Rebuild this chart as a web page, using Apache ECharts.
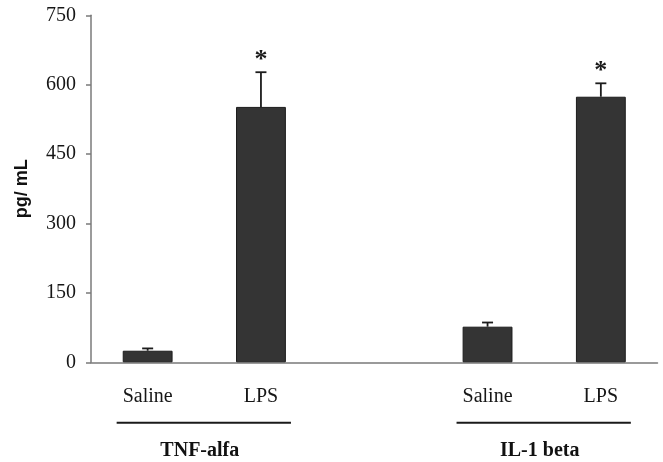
<!DOCTYPE html>
<html>
<head>
<meta charset="utf-8">
<style>
  html, body { margin: 0; padding: 0; background: #fff; }
  #chart { width: 663px; height: 462px; }
</style>
<script src="https://cdn.jsdelivr.net/npm/echarts@6/dist/echarts.min.js"></script>
</head>
<body>
<div id="chart"></div>
<script>
// Cytokine levels (pg/mL), mean with upper error bar; an empty slot separates the two cytokines
const categories = ['Saline', 'LPS', '', 'Saline', 'LPS'];
const means = [25, 552, null, 77, 574];
const errors = [5, 75, null, 9, 29];
const significance = ['', '*', '', '', '*'];
const groups = [
  { name: 'TNF-alfa', from: 0, to: 1 },
  { name: 'IL-1 beta', from: 3, to: 4 }
];
const yTicks = { min: 0, max: 750, interval: 150 };

const serif = '"Liberation Serif", "Times New Roman", serif';
const chart = echarts.init(document.getElementById('chart'));

const errorData = means.map((m, i) => m == null ? null : [i, m, m + errors[i], significance[i]]);

chart.setOption({
  animation: false,
  grid: { left: 91, right: 5.5, top: 15.3, bottom: 99.7, outerBoundsMode: 'none' },
  xAxis: {
    type: 'category',
    data: categories,
    boundaryGap: true,
    axisLine: { lineStyle: { color: '#7a7a7a', width: 1.5 } },
    axisTick: { show: false },
    axisLabel: { margin: 24, fontFamily: serif, fontSize: 20, color: '#161616', interval: 0 }
  },
  yAxis: {
    type: 'value',
    min: yTicks.min,
    max: yTicks.max,
    interval: yTicks.interval,
    name: 'pg/ mL',
    nameLocation: 'middle',
    nameGap: 60,
    nameTextStyle: { fontFamily: '"Liberation Sans", Arial, sans-serif', fontWeight: 'bold', fontSize: 18, color: '#111' },
    splitLine: { show: false },
    axisLine: { show: true, lineStyle: { color: '#7a7a7a', width: 1.5 } },
    axisTick: { show: true, length: 5, inside: false, lineStyle: { color: '#7a7a7a', width: 1.5 } },
    axisLabel: { margin: 15, fontFamily: serif, fontSize: 20, color: '#161616' }
  },
  series: [
    {
      type: 'bar',
      data: means,
      barWidth: '44%',
      itemStyle: { color: '#343434', borderColor: '#1c1c1c', borderWidth: 1 },
      z: 2
    },
    {
      type: 'custom',
      data: errorData,
      z: 3,
      renderItem: function (params, api) {
        if (api.value(1) == null || isNaN(api.value(1))) return null;
        const base = api.coord([api.value(0), api.value(1)]);
        const top = api.coord([api.value(0), api.value(2)]);
        const mark = errorData[params.dataIndex][3];
        const style = { stroke: '#1c1c1c', lineWidth: 1.8 };
        const children = [
          { type: 'line', shape: { x1: base[0], y1: base[1], x2: top[0], y2: top[1] }, style },
          { type: 'line', shape: { x1: top[0] - 5.5, y1: top[1], x2: top[0] + 5.5, y2: top[1] }, style }
        ];
        if (mark) {
          children.push({
            type: 'text',
            style: {
              text: mark, x: top[0], y: top[1] + 1,
              align: 'center', verticalAlign: 'bottom',
              font: 'bold 26px ' + serif, fill: '#1a1a1a'
            }
          });
        }
        return { type: 'group', children };
      }
    }
  ]
});

// Group brackets under the category labels
function drawGroups() {
  const baseY = chart.convertToPixel({ yAxisIndex: 0 }, 0);
  const elements = [];
  groups.forEach(g => {
    const x0 = chart.convertToPixel({ xAxisIndex: 0 }, g.from) - 31;
    const x1 = chart.convertToPixel({ xAxisIndex: 0 }, g.to) + 30;
    elements.push({
      type: 'line',
      shape: { x1: x0, y1: baseY + 60.5, x2: x1, y2: baseY + 60.5 },
      style: { stroke: '#1a1a1a', lineWidth: 2 }
    });
    elements.push({
      type: 'text',
      style: {
        text: g.name, x: (x0 + x1) / 2 - 4, y: baseY + 89,
        align: 'center', verticalAlign: 'middle',
        font: 'bold 20px ' + serif, fill: '#111'
      }
    });
  });
  chart.setOption({ graphic: { elements } });
}
drawGroups();
</script>
</body>
</html>
